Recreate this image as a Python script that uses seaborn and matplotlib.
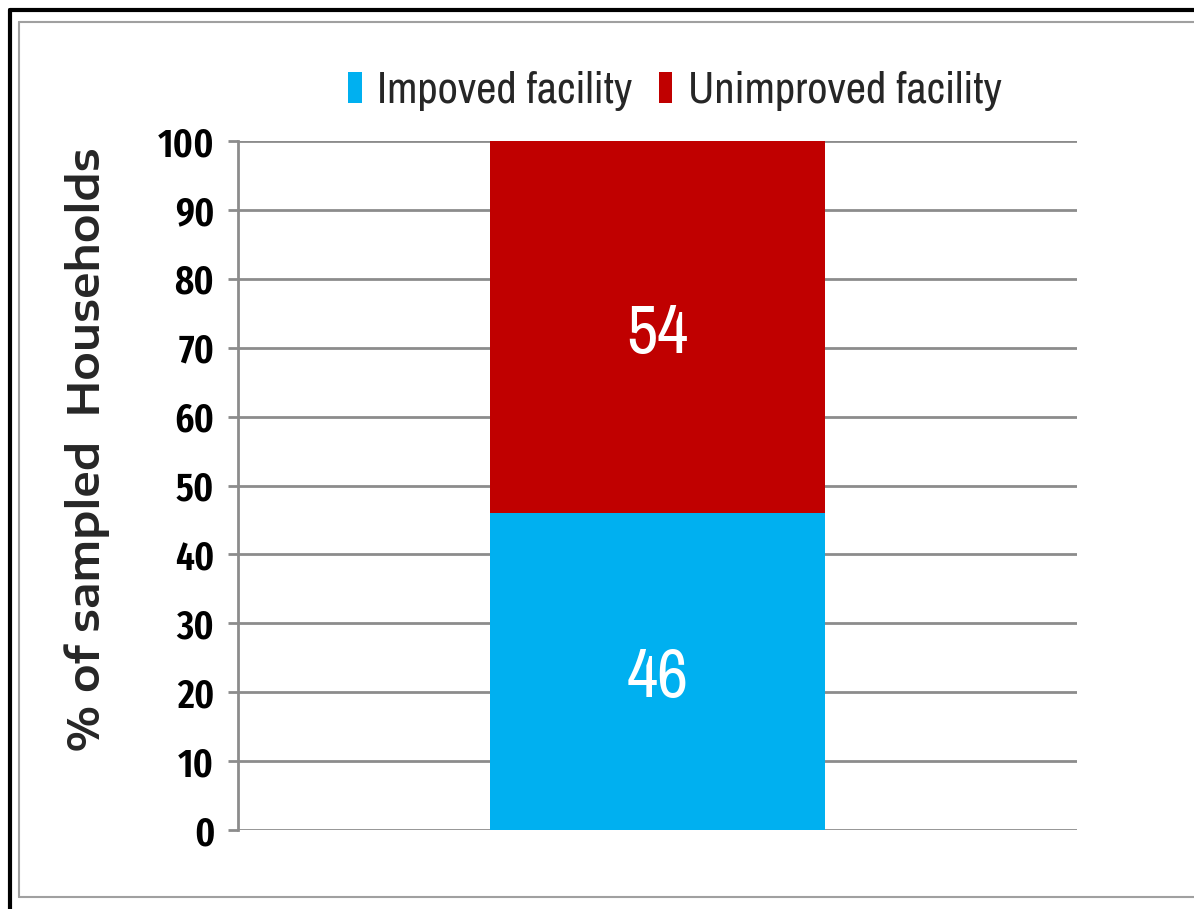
import matplotlib
matplotlib.use("Agg")
import matplotlib.pyplot as plt
import seaborn as sns
import pandas as pd
from matplotlib.patches import Patch
from matplotlib.lines import Line2D

# data
categories = ["Impoved facility", "Unimproved facility"]
values = [46, 54]
colors = ["#00B0F0", "#C00000"]
y_ticks = list(range(0, 101, 10))

sns.set_style("white")
plt.rcParams['font.family'] = ['Archivo Narrow', 'DejaVu Sans']

fig = plt.figure(figsize=(11.94, 9.09), dpi=100)
ax = fig.add_axes([238 / 1194, 79 / 909, 839 / 1194, 689 / 909])

# stacked bar: total first, then lower segment on top
df = pd.DataFrame({"group": ["all", "all"],
                   "seg": categories,
                   "cum": [values[0], values[0] + values[1]]})
sns.barplot(data=df[df["seg"] == categories[1]], x="group", y="cum",
            color=colors[1], width=0.4, saturation=1, linewidth=0, ax=ax, zorder=3)
sns.barplot(data=df[df["seg"] == categories[0]], x="group", y="cum",
            color=colors[0], width=0.4, saturation=1, linewidth=0, ax=ax, zorder=3)

# value labels
for y, v in [(values[0] / 2, values[0]), (values[0] + values[1] / 2, values[1])]:
    ax.annotate(str(v), (0, y), xytext=(0, -5), textcoords="offset points",
                ha="center", va="center", color="white", fontsize=49, zorder=5)

ax.set_xlim(-0.5, 0.5)
ax.set_ylim(0, 100)
ax.set_yticks(y_ticks)
ax.set_yticklabels([str(t) for t in y_ticks], fontsize=29, fontweight=600,
                   family=["Fira Sans Extra Condensed", "Roboto Condensed", "Archivo Narrow"])
ax.set_xticks([])
ax.set_xlabel("")
ax.set_ylabel("% of sampled  Households", fontsize=31, fontweight=600,
              family=["Encode Sans Expanded", "Liberation Sans"])
ax.yaxis.set_label_coords(-0.152, 0.5515)

ax.yaxis.grid(True, color="#8c8c8c", linewidth=2, zorder=0)
ax.set_axisbelow(True)
for s in ["top", "right", "bottom"]:
    ax.spines[s].set_visible(False)
ax.spines["left"].set_color("#8c8c8c")
ax.spines["left"].set_linewidth(2)
ax.tick_params(axis="y", left=True, length=7, width=2, color="#8c8c8c",
               pad=10, labelcolor="black")

handles = [Patch(facecolor=c, edgecolor="none") for c in colors]
fig.legend(handles, categories, loc="center", bbox_to_anchor=(675 / 1194, 1 - 91 / 909),
           ncol=2, frameon=False, fontsize=32, handlelength=0.3, handleheight=0.7,
           handletextpad=0.35, columnspacing=0.6)

# outer frames
W, H = 1194, 909
fig.add_artist(Line2D([10 / W, 1.01], [1 - 9.5 / H, 1 - 9.5 / H], color="black", lw=3))
fig.add_artist(Line2D([10 / W, 10 / W], [-0.01, 1 - 9.5 / H], color="black", lw=3))
fig.add_artist(Line2D([19 / W, 1.01], [1 - 22 / H, 1 - 22 / H], color="#a0a0a0", lw=1.5))
fig.add_artist(Line2D([19 / W, 19 / W], [1 - 897 / H, 1 - 22 / H], color="#a0a0a0", lw=1.5))
fig.add_artist(Line2D([19 / W, 1.01], [1 - 897 / H, 1 - 897 / H], color="#a0a0a0", lw=1.5))

fig.savefig("out.png", dpi=100, facecolor="white")
